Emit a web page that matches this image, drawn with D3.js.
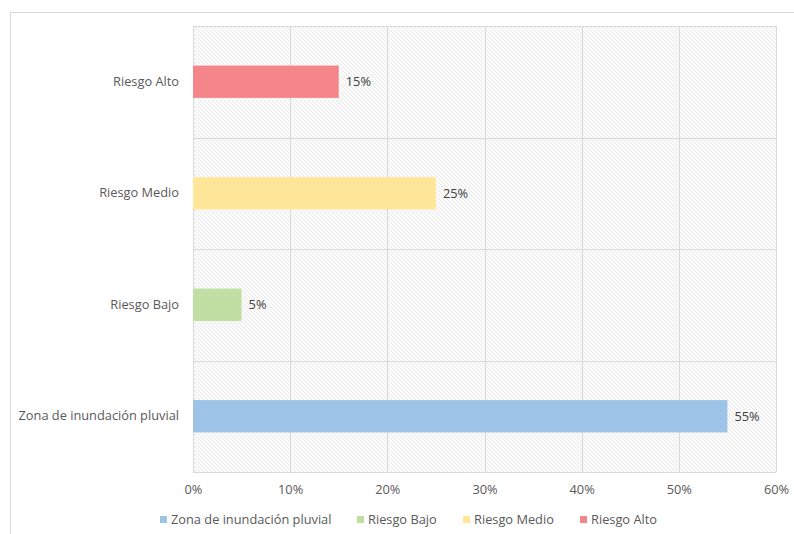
<!DOCTYPE html>
<html><head><meta charset="utf-8">
<script src="https://cdn.jsdelivr.net/npm/d3@7"></script>
<style>body{margin:0;background:#fff;} text{font-family:"Open Sans",sans-serif;}</style>
</head><body>
<svg id="c" width="794" height="534"></svg>
<script>
const categories = ["Riesgo Alto", "Riesgo Medio", "Riesgo Bajo", "Zona de inundación pluvial"];
const values = [0.15, 0.25, 0.05, 0.55];
const colors = ["#F4868A", "#FFE699", "#C1DFA2", "#9DC3E6"];
const tickValues = [0, 0.1, 0.2, 0.3, 0.4, 0.5, 0.6];
const legendOrder = ["Zona de inundación pluvial", "Riesgo Bajo", "Riesgo Medio", "Riesgo Alto"];

const svg = d3.select("#c");
const m = {left: 193, right: 776, top: 26, bottom: 472};
const txt = "#595959";
const fs = 12.8;

// outer border
svg.append("rect").attr("x", 10.5).attr("y", 12.5).attr("width", 800).attr("height", 540)
  .attr("fill", "#fff").attr("stroke", "#d9d9d9");

const defs = svg.append("defs");
const pat = defs.append("pattern").attr("id", "hatch").attr("patternUnits", "userSpaceOnUse")
  .attr("width", 4).attr("height", 4);
pat.append("rect").attr("width", 4).attr("height", 4).attr("fill", "#fbfbfb");
pat.append("path").attr("d", "M-1,-1 L5,5 M-1,3 L1,5 M3,-1 L5,1").attr("stroke", "#e4e4e4").attr("stroke-width", 0.8);

const x = d3.scaleLinear().domain([0, 0.6]).range([m.left, m.right]);
const y = d3.scaleBand().domain(categories).range([m.top, m.bottom]).paddingInner(0.71).paddingOuter(0.355);
const yb = d3.scaleBand().domain(categories).range([m.top, m.bottom]);

svg.append("rect").attr("x", m.left).attr("y", m.top).attr("width", m.right - m.left)
  .attr("height", m.bottom - m.top).attr("fill", "url(#hatch)");

// vertical grid
svg.append("g").selectAll("line").data(tickValues).join("line")
  .attr("x1", d => Math.round(x(d)) + 0.5).attr("x2", d => Math.round(x(d)) + 0.5)
  .attr("y1", m.top).attr("y2", m.bottom).attr("stroke", "#d9d9d9");
// horizontal grid at band boundaries
const hb = categories.map(c => yb(c)).concat([m.bottom]);
svg.append("g").selectAll("line").data(hb).join("line")
  .attr("x1", m.left).attr("x2", m.right)
  .attr("y1", d => Math.round(d) + 0.5).attr("y2", d => Math.round(d) + 0.5).attr("stroke", "#d9d9d9");

// bars
svg.append("g").selectAll("rect").data(categories).join("rect")
  .attr("x", x(0)).attr("y", (d) => y(d))
  .attr("width", (d, i) => x(values[i]) - x(0)).attr("height", y.bandwidth())
  .attr("fill", (d, i) => colors[i]);

// value labels
svg.append("g").selectAll("text").data(categories).join("text")
  .attr("x", (d, i) => x(values[i]) + 7).attr("y", d => y(d) + y.bandwidth() / 2)
  .attr("dy", "0.35em").attr("font-size", fs).attr("fill", "#404040")
  .text((d, i) => Math.round(values[i] * 100) + "%");

// y axis labels
const yAxis = d3.axisLeft(yb).tickSize(0).tickPadding(14);
const ga = svg.append("g").attr("transform", `translate(${m.left},0)`).call(yAxis);
ga.select(".domain").remove();
ga.selectAll("text").attr("font-size", fs).attr("fill", txt).attr("font-family", "Open Sans, sans-serif");

// x axis
const xAxis = d3.axisBottom(x).tickValues(tickValues).tickFormat(d3.format(".0%")).tickSize(0).tickPadding(13);
const gx = svg.append("g").attr("transform", `translate(0,${m.bottom})`).call(xAxis);
gx.select(".domain").remove();
gx.selectAll("text").attr("font-size", fs).attr("fill", txt).attr("font-family", "Open Sans, sans-serif");

// legend
const legX = [160, 357, 463, 580];
const lg = svg.append("g");
legendOrder.forEach((name, i) => {
  const ci = categories.indexOf(name);
  lg.append("rect").attr("x", legX[i]).attr("y", 516).attr("width", 7).attr("height", 7).attr("fill", colors[ci]);
  lg.append("text").attr("x", legX[i] + 11).attr("y", 520).attr("dy", "0.35em")
    .attr("font-size", fs).attr("fill", txt).text(name);
});
</script>
</body></html>
